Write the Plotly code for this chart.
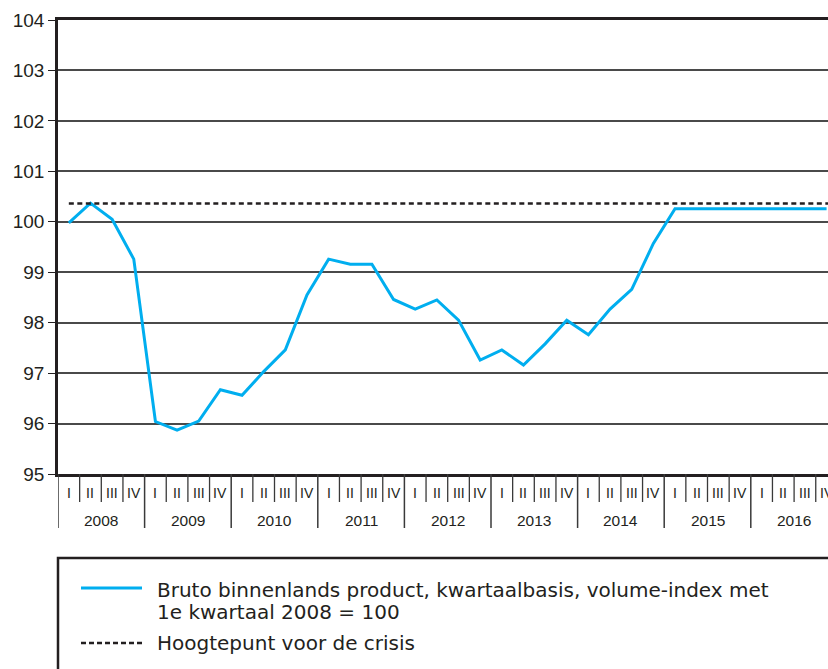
import plotly.graph_objects as go

# ---- data ----
years = ["2008", "2009", "2010", "2011", "2012", "2013", "2014", "2015", "2016"]
quarters = ["I", "II", "III", "IV"]
bbp = [99.98, 100.37, 100.05, 99.26,
       96.04, 95.87, 96.05, 96.67,
       96.56, 97.03, 97.46, 98.55,
       99.26, 99.16, 99.16, 98.46,
       98.27, 98.45, 98.05, 97.26,
       97.46, 97.16, 97.58, 98.05,
       97.76, 98.27, 98.66, 99.57,
       100.26, 100.26, 100.26, 100.26,
       100.26, 100.26, 100.26, 100.26]
peak = 100.36
y_ticks = [95, 96, 97, 98, 99, 100, 101, 102, 103, 104]
legend_labels = ["Bruto binnenlands product, kwartaalbasis, volume-index met",
                 "1e kwartaal 2008 = 100",
                 "Hoogtepunt voor de crisis"]

# ---- layout constants ----
W, H = 828, 669
ML, MT, MB = 58, 20, 195
PW, PH = W - ML, H - MT - MB
FONT = "Liberation Sans"
LFONT = "DejaVu Sans"
TXT = "#231f20"
BLUE = "#00aeef"
DARK = "#231f20"

n = len(bbp)
xpos = [i + 0.5 for i in range(n)]
x_end = PW / 21.65  # visible quarters

fig = go.Figure()
fig.add_trace(go.Scatter(x=xpos, y=bbp, mode="lines",
                         line=dict(color=BLUE, width=3), showlegend=False,
                         hoverinfo="skip"))

shapes = []
annotations = []

# dashed peak line
shapes.append(dict(type="line", xref="x", yref="y", x0=xpos[0], x1=n,
                   y0=peak, y1=peak, line=dict(color=DARK, width=2.5, dash="5px,3.5px")))

def px_x(p):
    return (p - ML) / PW

def px_y(p):
    return (MT + PH - p) / PH

# quarter dividers and labels
for i in range(n + 1):
    is_year = (i % 4 == 0)
    L = 54 if is_year else 28
    shapes.append(dict(type="line", xref="x", yref="paper", ysizemode="pixel",
                       yanchor=0, x0=i, x1=i, y0=0, y1=-L,
                       line=dict(color="#3a3a3a", width=1.3 if not is_year else 1.5)))
for i in range(n):
    annotations.append(dict(x=xpos[i], y=0, xref="x", yref="paper",
                            text=quarters[i % 4], showarrow=False, yshift=-19,
                            font=dict(family=FONT, size=14, color=TXT),
                            xanchor="center", yanchor="middle"))
for k, yr in enumerate(years):
    annotations.append(dict(x=k * 4 + 2, y=0, xref="x", yref="paper",
                            text=yr, showarrow=False, yshift=-46,
                            font=dict(family=FONT, size=15.5, color=TXT),
                            xanchor="center", yanchor="middle"))

# legend box
shapes.append(dict(type="rect", xref="paper", yref="paper",
                   x0=px_x(58), x1=px_x(900), y0=px_y(558), y1=px_y(720),
                   line=dict(color=DARK, width=2.5), fillcolor="rgba(0,0,0,0)"))
shapes.append(dict(type="line", xref="paper", yref="paper",
                   x0=px_x(81), x1=px_x(142), y0=px_y(588), y1=px_y(588),
                   line=dict(color=BLUE, width=3)))
shapes.append(dict(type="line", xref="paper", yref="paper",
                   x0=px_x(81), x1=px_x(142), y0=px_y(643), y1=px_y(643),
                   line=dict(color=DARK, width=2.3, dash="5px,3px")))
for txt, yy in zip(legend_labels, [590, 612, 643]):
    annotations.append(dict(x=px_x(155), y=px_y(yy), xref="paper", yref="paper",
                            text=txt, showarrow=False, xanchor="left", yanchor="middle",
                            font=dict(family=LFONT, size=20, color=TXT)))

fig.update_layout(
    width=W, height=H,
    margin=dict(l=ML, r=0, t=MT, b=MB, pad=0),
    paper_bgcolor="white", plot_bgcolor="white",
    showlegend=False,
    shapes=shapes, annotations=annotations,
    xaxis=dict(range=[0, x_end], showgrid=False, zeroline=False,
               showticklabels=False, ticks="", showline=True, mirror=True,
               linecolor=DARK, linewidth=2.5, fixedrange=True),
    yaxis=dict(range=[95, 104], tickvals=y_ticks, ticktext=[str(v) for v in y_ticks],
               showgrid=True, gridcolor="#4a4a4a", gridwidth=1.5, zeroline=False,
               showline=True, linecolor=DARK, linewidth=2.5,
               ticks="outside", ticklen=7, tickwidth=1.3, tickcolor=DARK,
               tickfont=dict(family=FONT, size=19, color=TXT), fixedrange=True),
)

fig.write_html("out.html", config={"displayModeBar": False},
               post_script="document.body.style.margin='0px';")
